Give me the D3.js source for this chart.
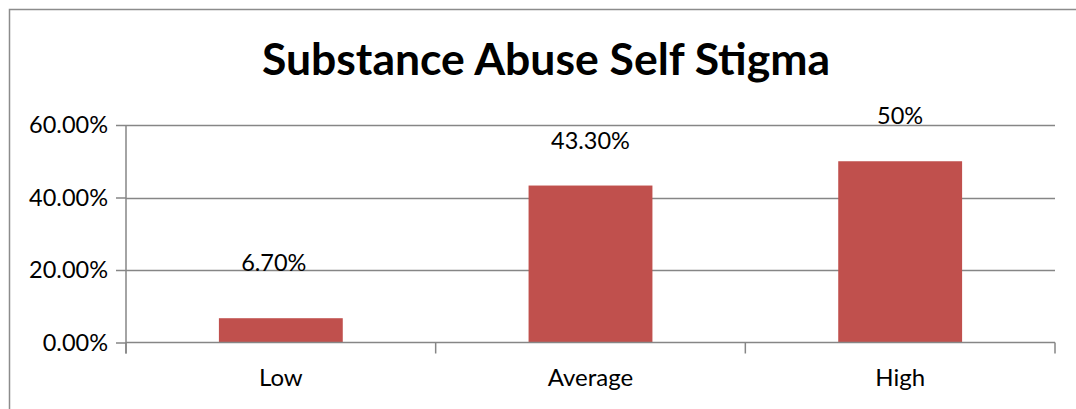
<!DOCTYPE html>
<html><head><meta charset="utf-8">
<script src="https://cdn.jsdelivr.net/npm/d3@7"></script>
<style>html,body{margin:0;padding:0;background:#fff;}svg{display:block;}</style>
</head><body>
<svg id="chart" width="1076" height="409"></svg>
<script>
const title = "Substance Abuse Self Stigma";
const categories = ["Low", "Average", "High"];
const values = [0.067, 0.433, 0.50];
const valueLabels = ["6.70%", "43.30%", "50%"];
const yTicks = [0, 0.2, 0.4, 0.6];
const yTickLabels = ["0.00%", "20.00%", "40.00%", "60.00%"];

const W = 1076, H = 409;
const m = {left: 126, right: 1055, top: 125, bottom: 342.5};
const font = "Lato, 'Open Sans', sans-serif";
const fs = 23.5;
const gridColor = "#868686";
const barColor = "#C0504D";

const svg = d3.select("#chart");

// outer chart border (extends beyond the picture on the right and bottom)
svg.append("rect").attr("x", 9.5).attr("y", 9.5).attr("width", 1100).attr("height", 450)
  .attr("fill", "none").attr("stroke", "#8c8c8c").attr("stroke-width", 1.5);

const x = d3.scaleBand().domain(categories).range([m.left, m.right]).paddingInner(0.6).paddingOuter(0.3);
const xBand = d3.scaleBand().domain(categories).range([m.left, m.right]).padding(0);
const y = d3.scaleLinear().domain([0, 0.6]).range([m.bottom, m.top]);

// gridlines
svg.append("g").selectAll("line").data(yTicks.filter(d => d > 0)).join("line")
  .attr("x1", m.left).attr("x2", m.right)
  .attr("y1", d => Math.round(y(d)) + 0.5).attr("y2", d => Math.round(y(d)) + 0.5)
  .attr("stroke", gridColor).attr("stroke-width", 1.5);

// y axis
const yAxis = d3.axisLeft(y).tickValues(yTicks).tickSize(10).tickPadding(8)
  .tickFormat((d, i) => yTickLabels[i]);
const gy = svg.append("g").attr("transform", `translate(${m.left},0)`).call(yAxis);
gy.select(".domain").attr("stroke", gridColor).attr("stroke-width", 1.5).attr("d", `M0,${m.top}V${m.bottom + 11}`);
gy.selectAll(".tick line").attr("stroke", gridColor).attr("stroke-width", 1.5);
gy.selectAll(".tick text").attr("font-family", font).attr("font-size", fs).attr("fill", "#000");

// bars
svg.append("g").selectAll("rect").data(values).join("rect")
  .attr("x", (d, i) => x(categories[i]))
  .attr("width", x.bandwidth())
  .attr("y", d => y(d))
  .attr("height", d => y(0) - y(d))
  .attr("fill", barColor);

// x axis
const gx = svg.append("g").attr("transform", `translate(0,${m.bottom})`);
gx.append("line").attr("x1", m.left).attr("x2", m.right).attr("y1", 0).attr("y2", 0)
  .attr("stroke", gridColor).attr("stroke-width", 1.5);
const boundaries = categories.map(c => xBand(c)).concat([m.right]);
gx.selectAll("line.tk").data(boundaries).join("line").attr("class", "tk")
  .attr("x1", d => d).attr("x2", d => d).attr("y1", 0).attr("y2", 11)
  .attr("stroke", gridColor).attr("stroke-width", 1.5);
gx.selectAll("text").data(categories).join("text")
  .attr("x", c => xBand(c) + xBand.bandwidth() / 2).attr("y", 43)
  .attr("text-anchor", "middle").attr("font-family", font).attr("font-size", 24).attr("fill", "#000")
  .text(c => c);

// data labels
const labelNudge = {Low: [-7, -10]};
svg.append("g").selectAll("text").data(values).join("text")
  .attr("x", (d, i) => x(categories[i]) + x.bandwidth() / 2 + (labelNudge[categories[i]] || [0, 0])[0])
  .attr("y", (d, i) => y(d) - 37 + (labelNudge[categories[i]] || [0, 0])[1])
  .attr("text-anchor", "middle").attr("font-family", font).attr("font-size", fs).attr("fill", "#000")
  .text((d, i) => valueLabels[i]);

// title
svg.append("text").attr("x", 546).attr("y", 75).attr("text-anchor", "middle")
  .attr("font-family", font).attr("font-weight", "bold").attr("font-size", 44.5).attr("fill", "#000")
  .text(title);
</script>
</body></html>
